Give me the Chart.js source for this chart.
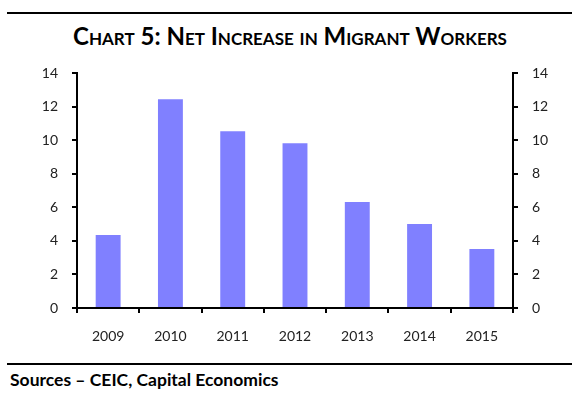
<!DOCTYPE html>
<html>
<head>
<meta charset="utf-8">
<script src="https://cdn.jsdelivr.net/npm/chart.js@4"></script>
<style>
  html, body { margin: 0; padding: 0; background: #fff; }
  body { width: 580px; height: 396px; position: relative; overflow: hidden; font-family: Lato, "Open Sans", sans-serif; }
  .rule { position: absolute; left: 7px; width: 565px; height: 2px; background: #000; }
  #title { position: absolute; top: 21px; left: 0; width: 580px; text-align: center; font-weight: 700; font-size: 24px; font-variant: small-caps; color: #000; }
  #sources { position: absolute; top: 369px; left: 10px; font-weight: 700; font-size: 17.5px; color: #000; }
  #wrap { position: absolute; left: 0; top: 51px; width: 580px; height: 304px; }
</style>
</head>
<body>
<div class="rule" style="top:12px"></div>
<div id="title">Chart 5: Net Increase in Migrant Workers</div>
<div id="wrap"><canvas id="chart" width="580" height="304"></canvas></div>
<div class="rule" style="top:363px"></div>
<div id="sources">Sources – CEIC, Capital Economics</div>

<script>
const years = ["2009", "2010", "2011", "2012", "2013", "2014", "2015"];
const netIncrease = [4.36, 12.45, 10.55, 9.83, 6.33, 5.01, 3.52];
const yMin = 0;
const yMax = 14;
const yStep = 2;

const tickFont = { family: "Lato", size: 14 };

function yAxis(position, width) {
  return {
    position,
    min: yMin,
    max: yMax,
    afterFit: (axis) => { axis.width = width; },
    border: { color: "#000", width: 2 },
    grid: { drawOnChartArea: false, tickLength: 5, color: "#000", lineWidth: 2 },
    ticks: { color: "#222", font: tickFont, padding: 14, stepSize: yStep, autoSkip: false }
  };
}

new Chart(document.getElementById("chart"), {
  type: "bar",
  data: {
    labels: years,
    datasets: [{
      data: netIncrease,
      backgroundColor: "#8080ff",
      borderWidth: 0,
      barPercentage: 0.8,
      categoryPercentage: 0.5
    }]
  },
  options: {
    responsive: false,
    animation: false,
    devicePixelRatio: 1,
    layout: { padding: { top: 13, bottom: 0, left: 0, right: 0 } },
    plugins: {
      legend: { display: false },
      tooltip: { enabled: false }
    },
    scales: {
      x: {
        afterFit: (axis) => { axis.height = 47; },
        border: { color: "#000", width: 2 },
        grid: { drawOnChartArea: false, tickLength: 5, color: "#000", lineWidth: 2, offset: true },
        ticks: { color: "#222", font: tickFont, padding: 15, maxRotation: 0, autoSkip: false }
      },
      y: yAxis("left", 77),
      y2: yAxis("right", 67)
    }
  }
});
</script>
</body>
</html>
